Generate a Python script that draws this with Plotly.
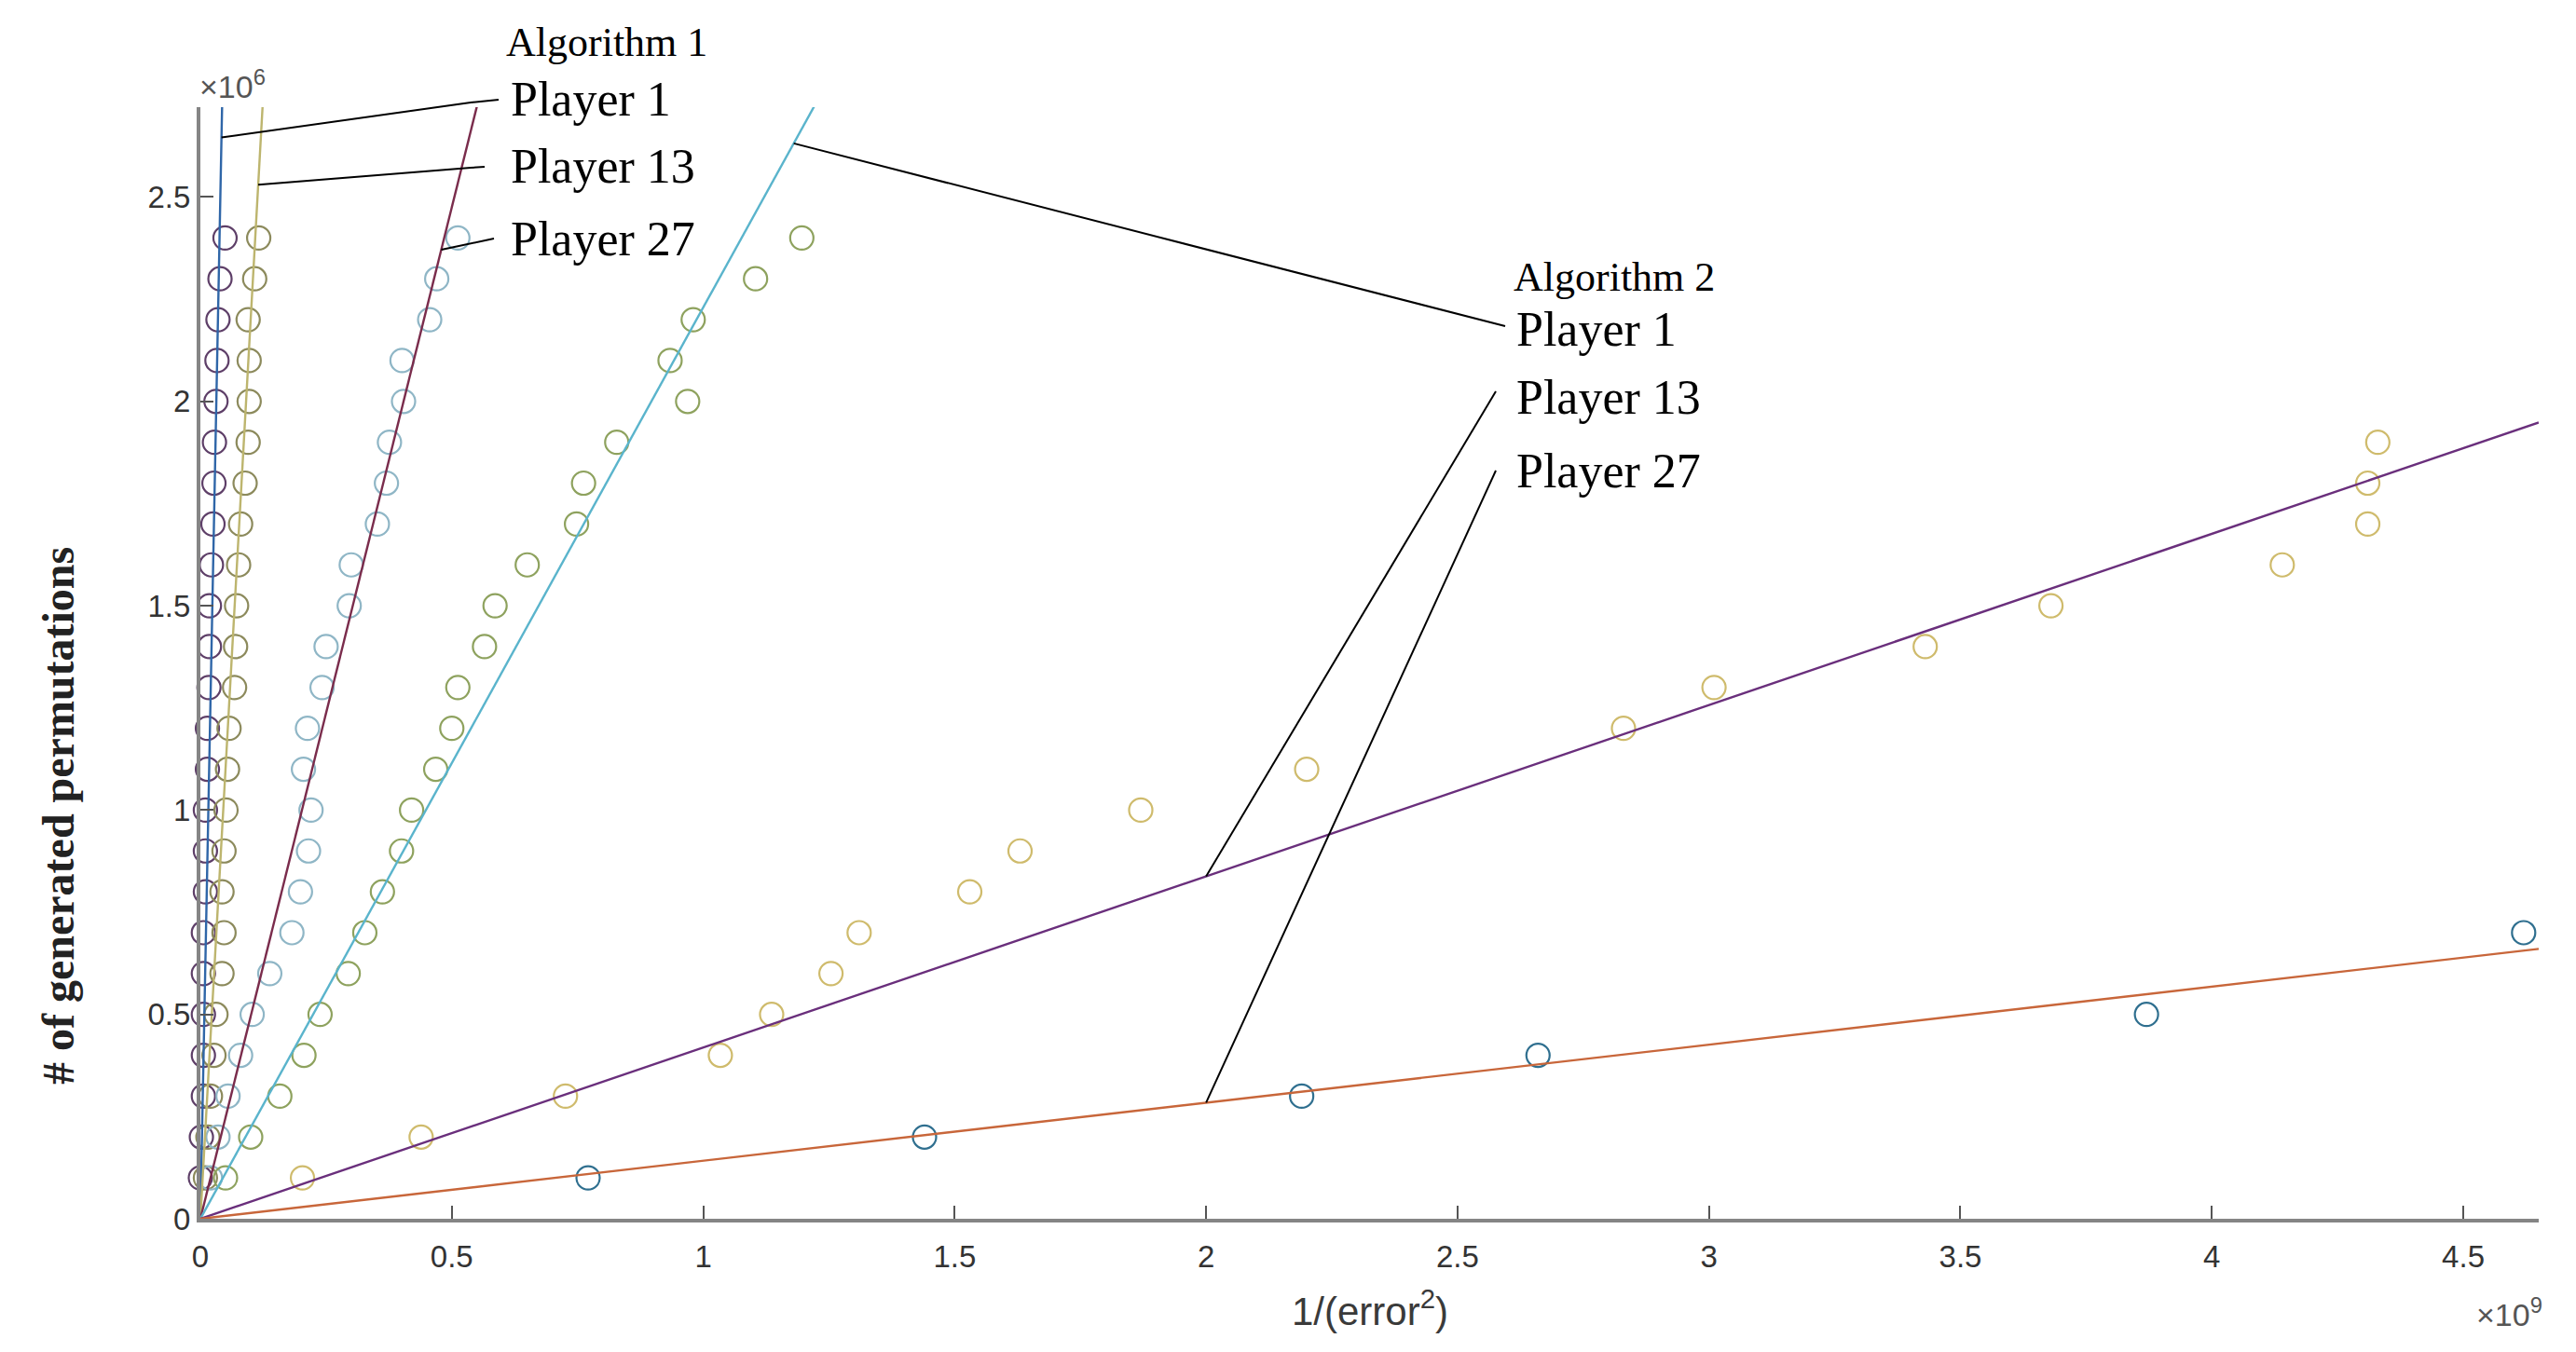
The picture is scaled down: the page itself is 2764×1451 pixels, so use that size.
import plotly.graph_objects as go

# values: x in units of 1e9 (1/error^2), y in units of 1e6 (# permutations)
levels_24 = [0.1, 0.2, 0.3, 0.4, 0.5, 0.6, 0.7, 0.8, 0.9, 1.0, 1.1, 1.2,
             1.3, 1.4, 1.5, 1.6, 1.7, 1.8, 1.9, 2.0, 2.1, 2.2, 2.3, 2.4]
levels_19 = [0.1, 0.2, 0.3, 0.4, 0.5, 0.6, 0.7, 0.8, 0.9, 1.0,
             1.1, 1.2, 1.3, 1.4, 1.5, 1.6, 1.7, 1.8, 1.9]
levels_6 = [0.1, 0.2, 0.3, 0.4, 0.5, 0.7]

x_alg1_p1 = [0.000, 0.002, 0.006, 0.006, 0.006, 0.006, 0.006, 0.010, 0.010, 0.010, 0.014, 0.014,
             0.017, 0.018, 0.018, 0.022, 0.025, 0.027, 0.028, 0.031, 0.033, 0.035, 0.039, 0.049]
x_alg1_p13 = [0.010, 0.015, 0.020, 0.027, 0.031, 0.043, 0.047, 0.043, 0.047, 0.051, 0.054, 0.057,
              0.068, 0.070, 0.072, 0.076, 0.080, 0.089, 0.095, 0.097, 0.097, 0.095, 0.108, 0.116]
x_alg1_p27 = [0.020, 0.035, 0.055, 0.080, 0.103, 0.138, 0.182, 0.199, 0.215, 0.220, 0.205, 0.213,
              0.242, 0.250, 0.296, 0.300, 0.352, 0.370, 0.376, 0.404, 0.401, 0.456, 0.470, 0.512]
x_alg2_p1 = [0.050, 0.100, 0.158, 0.206, 0.238, 0.294, 0.327, 0.362, 0.400, 0.420, 0.468, 0.500,
             0.512, 0.565, 0.586, 0.650, 0.748, 0.762, 0.828, 0.969, 0.934, 0.980, 1.104, 1.196]
x_alg2_p13 = [0.203, 0.439, 0.726, 1.034, 1.136, 1.254, 1.310, 1.530, 1.630, 1.870,
              2.200, 2.830, 3.010, 3.430, 3.680, 4.140, 4.310, 4.310, 4.330]
x_alg2_p27 = [0.771, 1.440, 2.190, 2.660, 3.870, 4.620]

# fitted lines through the origin (slope in 1e6 per 1e9)
fit_slopes = [63.0, 22.0, 4.95, 2.23, 0.419, 0.142]
# where the label pointers touch each fitted line (x, in 1e9)
pointer_at_x = [0.042, 0.115, 0.479, 1.18, 2.0, 2.0]

x_ticks = [0, 0.5, 1, 1.5, 2, 2.5, 3, 3.5, 4, 4.5]
x_ticktext = ['0', '0.5', '1', '1.5', '2', '2.5', '3', '3.5', '4', '4.5']
y_ticks = [0, 0.5, 1, 1.5, 2, 2.5]
y_ticktext = ['0', '0.5', '1', '1.5', '2', '2.5']

X_MAX, Y_MAX = 4.65, 2.72

series = [
    ('Algorithm 1, Player 1', x_alg1_p1, levels_24, '#5e3f68', '#2f66a8'),
    ('Algorithm 1, Player 13', x_alg1_p13, levels_24, '#8c8a5c', '#bdb56e'),
    ('Algorithm 1, Player 27', x_alg1_p27, levels_24, '#8fb6c6', '#7a2c4c'),
    ('Algorithm 2, Player 1', x_alg2_p1, levels_24, '#8ea25e', '#5ab4cc'),
    ('Algorithm 2, Player 13', x_alg2_p13, levels_19, '#cfbb6c', '#6a2f7c'),
    ('Algorithm 2, Player 27', x_alg2_p27, levels_6, '#2f6f8f', '#c8663a'),
]

W, H = 2764, 1451
L, R, T, B = 215, 40, 115, 143
PW, PH = W - L - R, H - T - B


def paper_x(px):
    return (px - L) / PW


def paper_y(py):
    return (H - B - py) / PH


fig = go.Figure()

for name, xs, ys, mcol, lcol in series:
    fig.add_trace(go.Scatter(
        x=xs, y=ys, mode='markers', name=name,
        marker=dict(symbol='circle-open', size=25, color=mcol, line=dict(width=2.2, color=mcol)),
        cliponaxis=False, showlegend=False
    ))

for (name, xs, ys, mcol, lcol), k in zip(series, fit_slopes):
    fig.add_trace(go.Scatter(
        x=[0, X_MAX], y=[0, k * X_MAX], mode='lines', name=name + ' fit',
        line=dict(color=lcol, width=2.4), showlegend=False
    ))

# label pointers: from the fitted line to the text
pointer_paths = [
    [(505, 110), (535, 107)],
    [(505, 180), (520, 179)],
    [(530, 256)],
    [(1615, 350)],
    [(1605, 420)],
    [(1605, 505)],
]
shapes = []
for k, ax_, path in zip(fit_slopes, pointer_at_x, pointer_paths):
    pts = [(ax_ / X_MAX, k * ax_ / Y_MAX)] + [(paper_x(a), paper_y(b)) for a, b in path]
    for (x0, y0), (x1, y1) in zip(pts[:-1], pts[1:]):
        shapes.append(dict(type='line', xref='paper', yref='paper', x0=x0, y0=y0, x1=x1, y1=y1,
                           line=dict(color='black', width=2)))

serif = 'Liberation Serif, Times New Roman, serif'
annotations = []
for text, cx, cy in [('Algorithm 1', 651, 45), ('Algorithm 2', 1732, 297)]:
    annotations.append(dict(text=text, xref='paper', yref='paper', x=paper_x(cx), y=paper_y(cy),
                            xanchor='center', yanchor='middle', showarrow=False,
                            font=dict(family=serif, size=44, color='black')))
for text, lx, cy in [('Player 1', 546, 106), ('Player 13', 546, 179), ('Player 27', 546, 256),
                     ('Player 1', 1625, 353), ('Player 13', 1625, 427), ('Player 27', 1625, 505)]:
    annotations.append(dict(text=text, xref='paper', yref='paper', x=paper_x(lx), y=paper_y(cy),
                            xanchor='left', yanchor='middle', showarrow=False,
                            font=dict(family=serif, size=52, color='black')))

sans = 'Liberation Sans, Arial, sans-serif'
annotations += [
    dict(text='\u00d710<sup>6</sup>', xref='paper', yref='paper', x=paper_x(212), y=paper_y(90),
         xanchor='left', yanchor='middle', showarrow=False, font=dict(family=sans, size=34, color='#555555')),
    dict(text='\u00d710<sup>9</sup>', xref='paper', yref='paper', x=paper_x(2730), y=paper_y(1408),
         xanchor='right', yanchor='middle', showarrow=False, font=dict(family=sans, size=34, color='#555555')),
    dict(text='1/(error<sup>2</sup>)', xref='paper', yref='paper', x=paper_x(1470), y=paper_y(1404),
         xanchor='center', yanchor='middle', showarrow=False,
         font=dict(family=sans, size=42, color='#3a3a3a')),
    dict(text='<b># of generated permutations</b>', xref='paper', yref='paper', x=paper_x(62), y=paper_y(876),
         xanchor='center', yanchor='middle', showarrow=False, textangle=-90,
         font=dict(family=serif, size=48, color='#222222')),
]

axis_common = dict(showgrid=False, zeroline=False, showline=True, linecolor='#858585', linewidth=4,
                   ticks='inside', ticklen=14, tickwidth=2, tickcolor='#555555',
                   tickfont=dict(family=sans, size=33, color='#333333'))

fig.update_layout(
    width=W, height=H,
    margin=dict(l=L, r=R, t=T, b=B),
    paper_bgcolor='white', plot_bgcolor='white',
    xaxis=dict(range=[0, X_MAX], tickvals=x_ticks, ticktext=x_ticktext, ticklabelstandoff=8, **axis_common),
    yaxis=dict(range=[0, Y_MAX], tickvals=y_ticks, ticktext=y_ticktext, **axis_common),
    shapes=shapes, annotations=annotations,
)

fig.write_html('out.html', config={'displayModeBar': False},
               post_script="document.body.style.margin='0';document.body.style.overflow='hidden';")
